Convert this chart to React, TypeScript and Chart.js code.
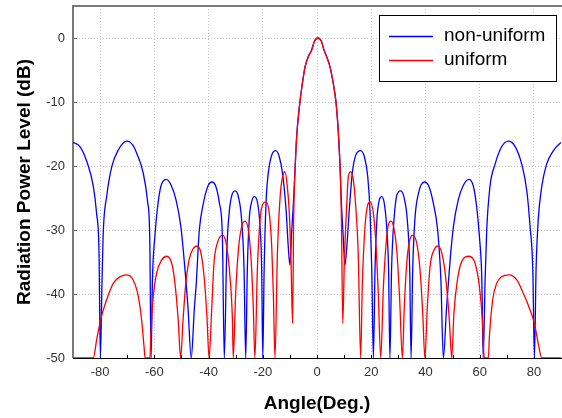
import React, { useEffect, useRef } from "react";
import { Chart, registerables } from "chart.js";

Chart.register(...registerables);

const FONT = 'Arial, "Liberation Sans", sans-serif';

const seriesLabels = ["non-uniform", "uniform"];
const xTickValues = [-80, -60, -40, -20, 0, 20, 40, 60, 80];
const xMinorTickValues = [-80, -70, -60, -50, -40, -30, -20, -10, 0, 10, 20, 30, 40, 50, 60, 70, 80];
const yTickValues = [-50, -40, -30, -20, -10, 0];

const nonUniformAngles = [
  -90, -87.4, -84.9, -82.5, -81.3, -80.4, -79.9,
  -79.3, -78.8, -77.6, -75.7, -73.3, -70.2, -67.8, -66.5, -64.1, -62.5, -61.7, -61.2,
  -60.7, -59.8, -58.8, -57.6, -55.7, -53.8, -52.0, -50.2, -49.0, -47.6, -46.4,
  -45.2, -44.6, -43.4, -41.9, -40.1, -38.8, -37.3, -36.0, -34.9, -34.2,
  -33.3, -32.3, -31.2, -30.2, -29.0, -27.8, -26.9, -26.3,
  -25.7, -25.0, -24.1, -23.1, -21.9, -21.0, -20.4, -20.0,
  -19.5, -18.8, -18.0, -16.7, -15.2, -13.9, -12.7, -11.4, -10.6, -10.0,
  -9.3, -8.7, -8.1, -7.5, -6.3, -5.4, -4.4, -3.2, -2.0, -1.0, 0.3, 1.6, 2.6, 3.7, 4.8, 6.0, 7.0, 7.9, 8.5, 9.0, 9.6, 10.3,
  11.0, 11.9, 13.0, 14.3, 16.1, 17.5, 18.7, 19.6, 20.2, 20.8,
  21.4, 22.1, 23.0, 23.9, 24.8, 25.7, 26.4, 26.9,
  27.5, 28.4, 29.5, 30.9, 32.2, 33.3, 34.2, 34.7,
  35.3, 36.1, 37.4, 39.6, 41.3, 42.9, 44.5, 45.7, 46.6,
  47.8, 49.1, 50.3, 52.1, 54.0, 56.1, 57.7, 58.9, 59.9, 60.8, 61.3,
  62.0, 62.6, 63.8, 65.7, 68.1, 70.6, 73.0, 75.5, 77.4, 78.6, 79.6, 80.2,
  80.8, 81.6, 82.9, 84.7, 87.2, 90,
];
const nonUniformDb = [
  -16.3, -17.0, -19.3, -23.2, -27.4, -33.6, -50,
  -38, -30, -24.8, -20.1, -17.5, -16.1, -16.8, -18.0, -21.1, -25.5, -31, -50,
  -37.8, -31, -26.4, -23.2, -22.1, -23.0, -25.3, -29.5, -34.7, -42, -50,
  -42, -38.8, -30, -25.8, -23, -22.5, -23.2, -25.8, -31, -50,
  -33.6, -26.9, -24.3, -23.9, -24.8, -28.4, -36.2, -50,
  -36.2, -28.4, -25.6, -24.8, -25.8, -29.5, -36.2, -50,
  -36.2, -25.8, -21.2, -18.3, -17.6, -18.6, -21.2, -26.9, -32.6, -35.5,
  -30, -25.8, -20.6, -15.4, -10, -7.1, -4.5, -2.9, -1.9, -0.6, 0, -0.5, -1.9, -3.1, -4.5, -7.1, -10, -14.9, -20, -25.8, -30.5, -35.5,
  -32.6, -26.9, -21.2, -18.3, -17.6, -18.6, -21.6, -27.4, -36.2, -50,
  -36.2, -28.4, -25.3, -24.8, -25.8, -29.5, -36.2, -50,
  -36.2, -28.4, -24.5, -23.9, -25.1, -28.4, -36.2, -50,
  -36.2, -28.4, -24.3, -22.5, -23.2, -25.8, -30, -37.8, -50,
  -42, -34.7, -29.5, -25.3, -23.0, -22.1, -23.2, -26.4, -31, -37.8, -50,
  -37.8, -30, -23.2, -19.7, -17.0, -16.1, -16.9, -19.7, -23.9, -29.5, -36.2, -50,
  -36.2, -28.4, -23.2, -19.7, -17.6, -16.3,
];

const uniformAngles = [
  -90, -82.5, -81.3, -79.8, -77.6, -75.1, -72.7, -70.2, -67.8, -65.9, -64.7, -63.8, -63.4,
  -61.6, -61.3, -60.4, -59.2, -57.3, -55.4, -53.6, -52.4, -51.2, -50.3,
  -49.4, -48.5, -47.2, -45.8, -44.2, -42.8, -41.6, -40.6, -39.8,
  -38.8, -38.0, -36.8, -34.8, -33.3, -32.1, -31.2, -30.9,
  -30.0, -29.0, -27.8, -26.6, -25.3, -24.3, -23.5, -22.9,
  -22.0, -21.0, -19.8, -18.8, -17.6, -16.7, -16.1, -15.5,
  -14.6, -13.6, -12.7, -11.8, -11.0, -10.2, -9.6, -9.0,
  -8.6, -8.1, -7.5, -6.3, -5.4, -4.4, -3.2, -2.0, -1.0, 0.3, 1.6, 2.6, 3.7, 4.8, 6.0, 7.0, 7.9, 8.5, 9.0, 9.5,
  10.1, 11.0, 11.5, 12.4, 13.4, 14.3, 15.2, 16.1,
  16.7, 17.7, 18.7, 19.6, 20.8, 21.8, 22.6, 23.5,
  24.5, 25.5, 26.3, 27.3, 28.5, 29.5, 30.5, 31.5,
  32.2, 33.1, 34.0, 35.3, 36.8, 38.0, 39.0, 39.8,
  40.7, 41.7, 43.2, 44.7, 46.6, 47.8, 48.8, 49.7,
  50.5, 51.8, 53.4, 56.1, 58.3, 59.9, 61.0, 61.7,
  63.2, 63.6, 64.8, 66.3, 68.1, 70.8, 73.7, 76.1, 78.6, 80.2, 81.6, 82.9, 90,
];
const uniformDb = [
  -50, -50, -47.2, -44.0, -40.9, -38.3, -37.3, -37.0, -37.8, -40.4, -44.0, -48.2, -50,
  -50, -46.6, -40.4, -36.8, -34.7, -34.1, -35.2, -38.3, -44.0, -50,
  -44, -38.8, -34.7, -33.0, -32.5, -33.6, -37.5, -43.5, -50,
  -42, -35.2, -32.1, -30.8, -32.6, -37.3, -44, -50,
  -39.9, -33.1, -29.5, -28.6, -30.0, -34.7, -42.0, -50,
  -36.2, -28.4, -25.8, -25.6, -27.4, -32.6, -39.9, -50,
  -33.6, -24.8, -21.7, -20.9, -23.0, -27.4, -34.7, -44.6,
  -28, -20.6, -15.4, -10, -7.1, -4.5, -2.9, -1.9, -0.6, 0, -0.5, -1.9, -3.1, -4.5, -7.1, -10, -14.9, -20, -28, -44.6,
  -34.7, -25.8, -21.9, -20.9, -22.2, -26.4, -33.6, -50,
  -38.8, -29.5, -26.1, -25.6, -27.4, -32.6, -39.9, -50,
  -38.8, -32.1, -29.2, -28.6, -30.0, -33.6, -40.9, -50,
  -42.0, -35.2, -32.0, -30.8, -32.1, -36.2, -43.0, -50,
  -42.0, -35.7, -33.1, -32.5, -34.7, -38.8, -44.0, -50,
  -43.0, -37.8, -34.9, -34.1, -35.2, -38.8, -44.0, -50,
  -50, -46.6, -40.9, -38.3, -37.3, -37.0, -37.8, -39.9, -42.5, -44.6, -47.7, -50, -50,
];

const seriesColors = ["#0000ff", "#ff0000"];

export default function App() {
  const ref = useRef<HTMLCanvasElement>(null);

  useEffect(() => {
    const canvas = ref.current;
    if (!canvas) return;

    const framePlugin = {
      id: "frame",
      beforeDatasetsDraw(chart: any) {
        const { ctx, chartArea: a, scales } = chart;
        ctx.save();
        ctx.strokeStyle = "#000";
        ctx.lineWidth = 1;
        for (const v of xMinorTickValues) {
          const px = Math.round(scales.x.getPixelForValue(v)) + 0.5;
          ctx.beginPath();
          ctx.moveTo(px, a.bottom);
          ctx.lineTo(px, a.bottom - 3);
          ctx.stroke();
        }
        ctx.strokeStyle = "#606060";
        for (const v of yTickValues) {
          const py = Math.round(scales.y.getPixelForValue(v)) + 0.5;
          ctx.beginPath();
          ctx.moveTo(a.left, py);
          ctx.lineTo(a.left + 4, py);
          ctx.stroke();
        }
        ctx.strokeStyle = "#7a7a7a";
        ctx.lineWidth = 2;
        ctx.beginPath();
        ctx.moveTo(a.left, a.top - 1);
        ctx.lineTo(a.left, a.bottom);
        ctx.stroke();
        ctx.beginPath();
        ctx.moveTo(a.left - 1, a.top);
        ctx.lineTo(chart.width, a.top);
        ctx.stroke();
        ctx.strokeStyle = "#000";
        ctx.lineWidth = 1;
        ctx.beginPath();
        ctx.moveTo(a.left, a.bottom + 0.5);
        ctx.lineTo(chart.width, a.bottom + 0.5);
        ctx.stroke();
        ctx.restore();
      },
    };

    const legendPlugin = {
      id: "boxLegend",
      afterDraw(chart: any) {
        const { ctx } = chart;
        ctx.save();
        ctx.fillStyle = "#fff";
        ctx.fillRect(379, 15, 177, 66);
        ctx.strokeStyle = "#000";
        ctx.lineWidth = 1;
        ctx.strokeRect(379.5, 15.5, 177, 66);
        const rows = [36, 60];
        ctx.font = `19px ${FONT}`;
        ctx.textBaseline = "middle";
        ctx.textAlign = "left";
        chart.data.datasets.forEach((ds: any, i: number) => {
          const y = rows[i] + 0.5;
          ctx.strokeStyle = ds.borderColor;
          ctx.lineWidth = 1.5;
          ctx.beginPath();
          ctx.moveTo(389, y);
          ctx.lineTo(433, y);
          ctx.stroke();
          ctx.fillStyle = "#000";
          ctx.fillText(ds.label, 444, rows[i]);
        });
        ctx.restore();
      },
    };

    const chart = new Chart(canvas, {
      type: "line",
      data: {
        datasets: [
          {
            label: seriesLabels[0],
            data: nonUniformAngles.map((x, i) => ({ x, y: nonUniformDb[i] })),
            borderColor: seriesColors[0],
            borderWidth: 1.3,
            pointRadius: 0,
            cubicInterpolationMode: "monotone",
            order: 1,
          },
          {
            label: seriesLabels[1],
            data: uniformAngles.map((x, i) => ({ x, y: uniformDb[i] })),
            borderColor: seriesColors[1],
            borderWidth: 1.3,
            pointRadius: 0,
            cubicInterpolationMode: "monotone",
            order: 0,
          },
        ],
      },
      options: {
        responsive: false,
        animation: false,
        devicePixelRatio: 1,
        events: [],
        layout: { padding: { top: 6, right: 1, left: 0, bottom: 0 } },
        plugins: { legend: { display: false }, tooltip: { enabled: false } },
        scales: {
          x: {
            type: "linear",
            min: -90,
            max: 90,
            afterBuildTicks: (s: any) => {
              s.ticks = xTickValues.map((v) => ({ value: v }));
            },
            afterFit: (s: any) => {
              s.height = 60;
              s.paddingLeft = 0;
              s.paddingRight = 0;
              s.paddingTop = 0;
              s.paddingBottom = 0;
            },
            grid: { color: "#c4c4c4", lineWidth: 1, drawTicks: false },
            border: { display: false, dash: [1, 2] },
            ticks: {
              padding: 7,
              color: "#333",
              font: { family: FONT, size: 13 },
              maxRotation: 0,
              autoSkip: false,
            },
            title: {
              display: true,
              text: "Angle(Deg.)",
              color: "#000",
              font: { family: FONT, size: 19, weight: "bold" },
              padding: { top: 0, bottom: 3 },
            },
          },
          y: {
            type: "linear",
            min: -50,
            max: 5,
            afterBuildTicks: (s: any) => {
              s.ticks = yTickValues.map((v) => ({ value: v }));
            },
            afterFit: (s: any) => {
              s.width = 73;
              s.paddingLeft = 0;
              s.paddingRight = 0;
              s.paddingTop = 0;
              s.paddingBottom = 0;
            },
            grid: { color: "#c4c4c4", lineWidth: 1, drawTicks: false },
            border: { display: false, dash: [1, 2] },
            ticks: {
              padding: 8,
              color: "#333",
              font: { family: FONT, size: 13 },
            },
            title: {
              display: true,
              text: "Radiation Power Level (dB)",
              color: "#000",
              font: { family: FONT, size: 19, weight: "bold" },
              padding: { top: 13, bottom: 0 },
            },
          },
        },
      },
      plugins: [framePlugin, legendPlugin],
    } as any);

    return () => chart.destroy();
  }, []);

  return (
    <canvas
      ref={ref}
      width={562}
      height={418}
      style={{ position: "fixed", left: 0, top: 0, display: "block", background: "#fff" }}
    />
  );
}
